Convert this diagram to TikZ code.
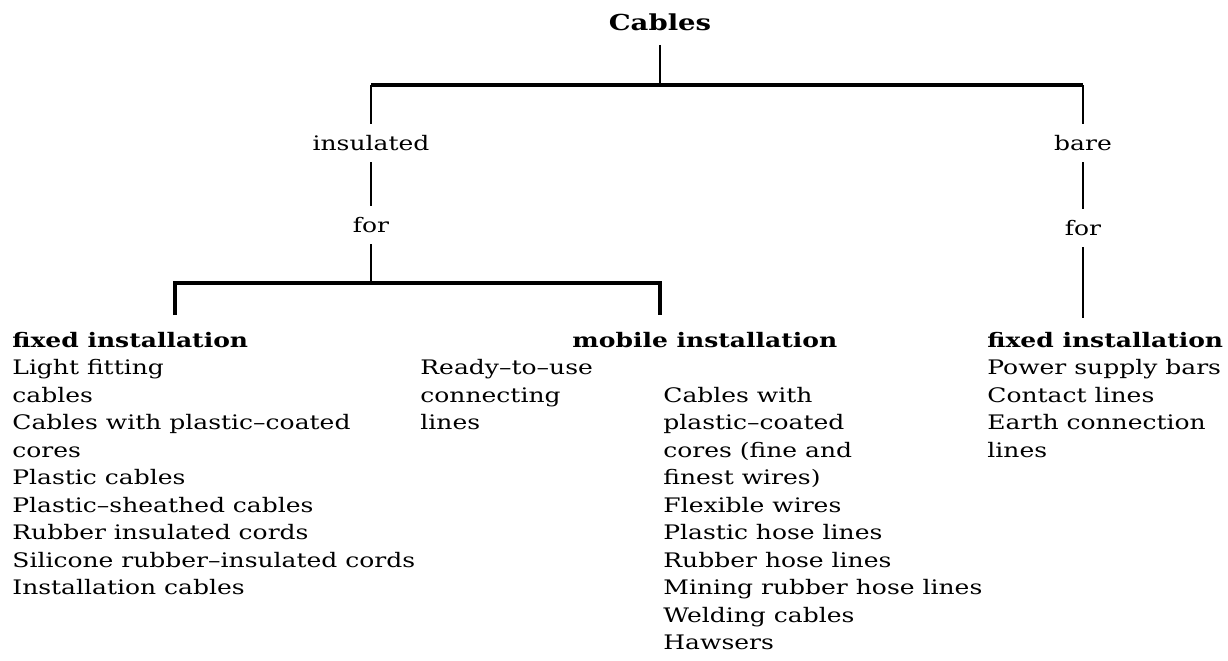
\documentclass[tikz,border=0pt]{standalone}
\usepackage{fontspec}
\setmainfont{DejaVu Serif}[FakeStretch=1.25]
\usetikzlibrary{positioning}

\begin{document}
\begin{tikzpicture}[
  x=0.5pt, y=-0.5pt,
  font=\fontsize{10}{13.75}\selectfont,
  title/.style={inner sep=7pt, font=\fontsize{11}{14}\selectfont\bfseries},
  lbl/.style={inner sep=5.5pt},
  head/.style={anchor=mid west, inner sep=0pt, font=\fontsize{10}{13.75}\selectfont\bfseries},
  item/.style={anchor=mid west, inner sep=0pt},
  branch/.style={line width=1.3pt},
  bar/.style={line width=1.8pt},
]
\path[use as bounding box] (0,0) rectangle (1228,660);
\node[title] (cables)    at (660,22)  {Cables};
\node[lbl]   (insulated) at (371,143) {insulated};
\node[lbl]   (insfor)    at (371,225) {for};
\node[lbl]   (bare)      at (1083,143) {bare};
\node[lbl]   (barefor)   at (1083,228) {for};
\coordinate (insbar)   at (371,85);
\coordinate (barebar)  at (1083,85);
\coordinate (fixtop)   at (175,283);
\coordinate (mobtop)   at (660,283);
\coordinate (fixdrop)  at (175,315);
\coordinate (mobdrop)  at (660,315);
\coordinate (baredrop) at (1083,318);

% headings
\node[head] (fixhead)  at (12,342)  {fixed installation};
\node[head] (mobhead)  at (572,342) {mobile installation};
\node[head] (barehead) at (987,342) {fixed installation};

% lists
\foreach \t [count=\i] in {Light fitting, cables, Cables with plastic--coated,
    cores, Plastic cables, Plastic--sheathed cables, Rubber insulated cords,
    Silicone rubber--insulated cords, Installation cables}
  \node[item] (fix\i) at (12,342+27.5*\i) {\t};
\foreach \t [count=\i] in {Ready--to--use, connecting, lines}
  \node[item] (ready\i) at (420,342+27.5*\i) {\t};
\foreach \t [count=\i] in {Cables with, plastic--coated, cores (fine and,
    finest wires), Flexible wires, Plastic hose lines, Rubber hose lines,
    Mining rubber hose lines, Welding cables, Hawsers}
  \node[item] (mob\i) at (663,369.5+27.5*\i) {\t};
\foreach \t [count=\i] in {Power supply bars, Contact lines,
    Earth connection, lines}
  \node[item] (bare\i) at (987,342+27.5*\i) {\t};

\draw[branch] (cables) -- (cables |- insbar);
\draw[bar] (insbar) -- (barebar);
\draw[branch] (insbar) -- (insulated);
\draw[branch] (barebar) -- (bare);
\draw[branch] (insulated) -- (insfor);
\draw[branch] (insfor) -- (insfor |- fixtop);
\draw[bar] (fixdrop) -- (fixtop) -- (mobtop) -- (mobdrop);
\draw[branch] (bare) -- (barefor);
\draw[branch] (barefor) -- (baredrop);
\end{tikzpicture}
\end{document}
